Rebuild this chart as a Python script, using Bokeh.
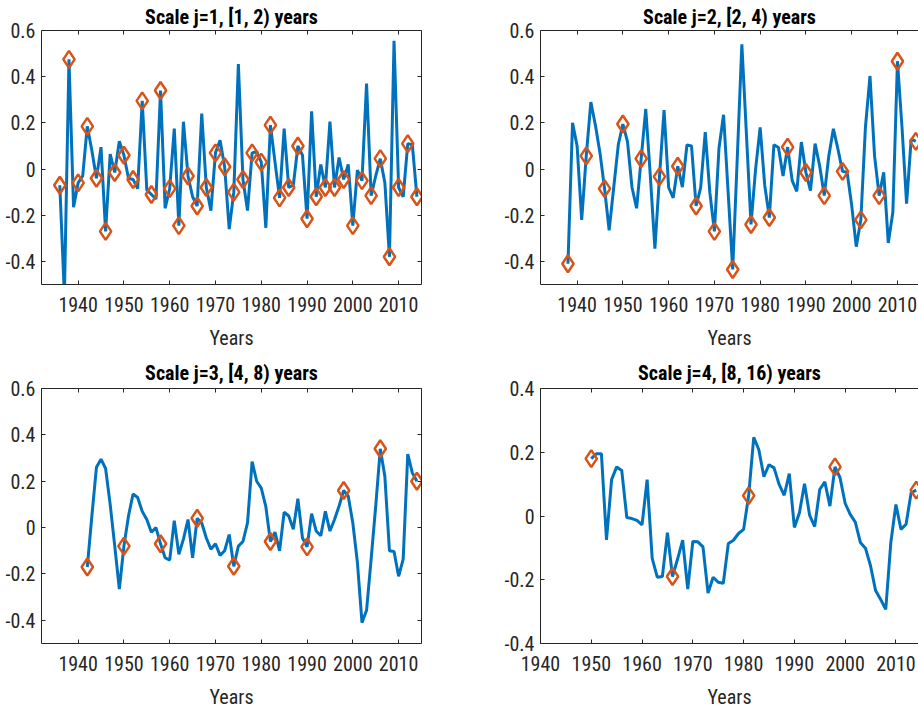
from bokeh.plotting import figure
from bokeh.models import Range1d, LinearAxis, FixedTicker, NumeralTickFormatter, ColumnDataSource
from bokeh.layouts import column, row
from bokeh.embed import file_html
from bokeh.resources import INLINE

# ---------------- data ----------------
titles = ["Scale j=1, [1, 2) years", "Scale j=2, [2, 4) years",
          "Scale j=3, [4, 8) years", "Scale j=4, [8, 16) years"]
x_label = "Years"
x_ticks = [1940, 1950, 1960, 1970, 1980, 1990, 2000, 2010]
y_ticks_a = [-0.4, -0.2, 0, 0.2, 0.4, 0.6]
y_ticks_b = [-0.4, -0.2, 0, 0.2, 0.4]

years_j1 = list(range(1936, 2015))
vals_j1 = [-0.07, -0.55, 0.475, -0.165, -0.06, -0.03, 0.185, 0.08, -0.04, 0.095,
           -0.27, 0.065, -0.015, 0.12, 0.06, -0.04, -0.045, -0.085, 0.295, -0.09,
           -0.11, -0.13, 0.34, -0.17, -0.085, 0.175, -0.245, 0.205, -0.03, -0.12,
           -0.16, 0.24, -0.08, -0.18, 0.07, 0.125, 0.01, -0.26, -0.1, 0.455,
           -0.045, -0.18, 0.07, 0.075, 0.03, -0.255, 0.19, 0.03, -0.125, 0.175,
           -0.08, -0.07, 0.1, 0.06, -0.215, 0.25, -0.12, 0.02, -0.08, 0.205,
           -0.08, 0.05, -0.045, 0.02, -0.245, -0.005, -0.05, 0.37, -0.115, -0.03,
           0.045, -0.06, -0.38, 0.555, -0.08, -0.12, 0.11, 0.105, -0.12]
marks_j1 = list(range(1936, 2015, 2))

years_j2 = list(range(1938, 2015))
vals_j2 = [-0.41, 0.2, 0.1, -0.22, 0.057, 0.29, 0.19, 0.07, -0.085, -0.265,
           -0.08, 0.105, 0.195, 0.12, -0.08, -0.17, 0.045, 0.26, -0.03, -0.345,
           -0.033, 0.255, -0.08, -0.125, 0.012, -0.078, 0.104, 0.1, -0.16, -0.08,
           0.16, -0.1, -0.27, 0.09, 0.235, -0.1, -0.435, 0.05, 0.54, 0.15,
           -0.24, 0.0, 0.18, -0.07, -0.21, 0.105, 0.093, -0.03, 0.095, -0.05,
           -0.097, 0.117, -0.015, -0.093, 0.11, 0.014, -0.115, 0.057, 0.174, 0.086,
           -0.01, -0.014, -0.157, -0.336, -0.22, 0.18, 0.403, 0.057, -0.115, -0.014,
           -0.32, -0.186, 0.467, 0.18, -0.15, 0.13, 0.12]
marks_j2 = list(range(1938, 2015, 4))

years_j3 = list(range(1942, 2015))
vals_j3 = [-0.17, 0.05, 0.26, 0.295, 0.255, 0.1, -0.08, -0.265, -0.08, 0.05,
           0.145, 0.13, 0.07, 0.035, -0.02, 0.0, -0.07, -0.13, -0.14, 0.03,
           -0.115, -0.05, 0.035, -0.13, 0.04, 0.02, -0.045, -0.093, -0.07, -0.12,
           -0.1, -0.03, -0.167, -0.08, -0.06, 0.02, 0.285, 0.2, 0.17, 0.09,
           -0.06, -0.02, -0.1, 0.067, 0.05, -0.007, 0.125, -0.045, -0.083, 0.06,
           -0.015, -0.035, 0.07, -0.015, 0.035, 0.093, 0.16, 0.135, 0.02, -0.15,
           -0.41, -0.357, -0.136, 0.093, 0.34, 0.22, -0.1, -0.103, -0.21, -0.136,
           0.317, 0.236, 0.2]
marks_j3 = list(range(1942, 2015, 8))

years_j4 = list(range(1950, 2015))
vals_j4 = [0.18, 0.195, 0.195, -0.075, 0.114, 0.154, 0.143, -0.005, -0.008, -0.014,
           -0.028, 0.114, -0.133, -0.192, -0.19, -0.052, -0.19, -0.135, -0.076, -0.229,
           -0.08, -0.081, -0.097, -0.242, -0.192, -0.208, -0.211, -0.086, -0.076, -0.055,
           -0.042, 0.064, 0.247, 0.208, 0.123, 0.161, 0.151, 0.099, 0.065, 0.133,
           -0.036, 0.01, 0.101, 0.003, -0.033, 0.083, 0.107, 0.031, 0.154, 0.12,
           0.04, 0.005, -0.019, -0.083, -0.101, -0.156, -0.234, -0.262, -0.293, -0.083,
           0.036, -0.042, -0.026, 0.073, 0.081]
marks_j4 = [1950, 1966, 1981, 1998, 2014]

# ---------------- style ----------------
FONT = "Roboto Condensed, Noto Sans Condensed, Liberation Sans Narrow, Liberation Sans"
AX = "#262626"
BLUE = "#0072BD"
ORANGE = "#D95319"
FS = "20px"


def style_axis(ax, labels=True):
    ax.axis_line_color = AX
    ax.axis_line_width = 1
    ax.major_tick_line_color = AX
    ax.major_tick_in = 4
    ax.major_tick_out = 0
    ax.minor_tick_line_color = None
    ax.major_label_text_font = FONT
    ax.axis_label_text_font = FONT
    ax.axis_label_text_font_size = FS
    ax.axis_label_text_font_style = "normal"
    ax.axis_label_text_color = AX
    if labels:
        ax.major_label_text_font_size = FS
        ax.major_label_text_color = AX
    else:
        ax.major_label_text_font_size = "1px"
        ax.major_label_text_color = None
        ax.major_label_standoff = 0


def panel(title, years, vals, marks, xr, yr, yticks, width, height, borders,
          right_axis, title_gap):
    p = figure(width=width, height=height, x_range=Range1d(*xr), y_range=Range1d(*yr),
               output_backend="svg", toolbar_location=None, title=title,
               min_border_left=borders[0], min_border_right=borders[1],
               min_border_top=borders[2], min_border_bottom=borders[3])
    p.outline_line_color = None
    p.grid.visible = False
    p.background_fill_color = "white"
    p.border_fill_color = "white"
    p.title.align = "center"
    p.title.text_font = FONT
    p.title.text_font_size = FS
    p.title.text_font_style = "bold"
    p.title.text_color = "#000000"
    p.title.standoff = title_gap

    xb = p.xaxis[0]
    yl = p.yaxis[0]
    xb.ticker = FixedTicker(ticks=x_ticks)
    yl.ticker = FixedTicker(ticks=yticks)
    yl.formatter = NumeralTickFormatter(format="0.[0]")
    style_axis(xb)
    style_axis(yl)
    xb.major_label_standoff = 12
    xb.axis_label = x_label
    xb.axis_label_standoff = 11
    yl.major_label_standoff = 6

    top = LinearAxis(ticker=FixedTicker(ticks=x_ticks))
    style_axis(top, labels=False)
    p.add_layout(top, "above")
    if right_axis:
        ra = LinearAxis(ticker=FixedTicker(ticks=yticks))
        style_axis(ra, labels=False)
        p.add_layout(ra, "right")

    src = ColumnDataSource(dict(x=years, y=vals))
    lookup = dict(zip(years, vals))
    msrc = ColumnDataSource(dict(x=marks, y=[lookup[m] for m in marks]))
    p.line("x", "y", source=src, line_color=BLUE, line_width=3)
    p.scatter("x", "y", source=msrc, marker="diamond", size=17, fill_color=None,
              line_color=ORANGE, line_width=2.5)
    return p


p1 = panel(titles[0], years_j1, vals_j1, marks_j1, (1932, 2015), (-0.5, 0.6), y_ticks_a,
           460, 352, (41, 39, 29, 66), True, 4)
p2 = panel(titles[1], years_j2, vals_j2, marks_j2, (1932, 2014.6), (-0.5, 0.6), y_ticks_a,
           458, 352, (80, 0, 29, 66), False, 4)
p3 = panel(titles[2], years_j3, vals_j3, marks_j3, (1932, 2015), (-0.5, 0.6), y_ticks_a,
           460, 359, (41, 39, 36, 66), True, 8)
p4 = panel(titles[3], years_j4, vals_j4, marks_j4, (1940, 2014.45), (-0.4, 0.4), y_ticks_b,
           458, 359, (80, 0, 36, 66), False, 8)

layout = column(row(p1, p2, spacing=0), row(p3, p4, spacing=0), spacing=0)
open("out.html", "w").write(file_html(layout, INLINE))
